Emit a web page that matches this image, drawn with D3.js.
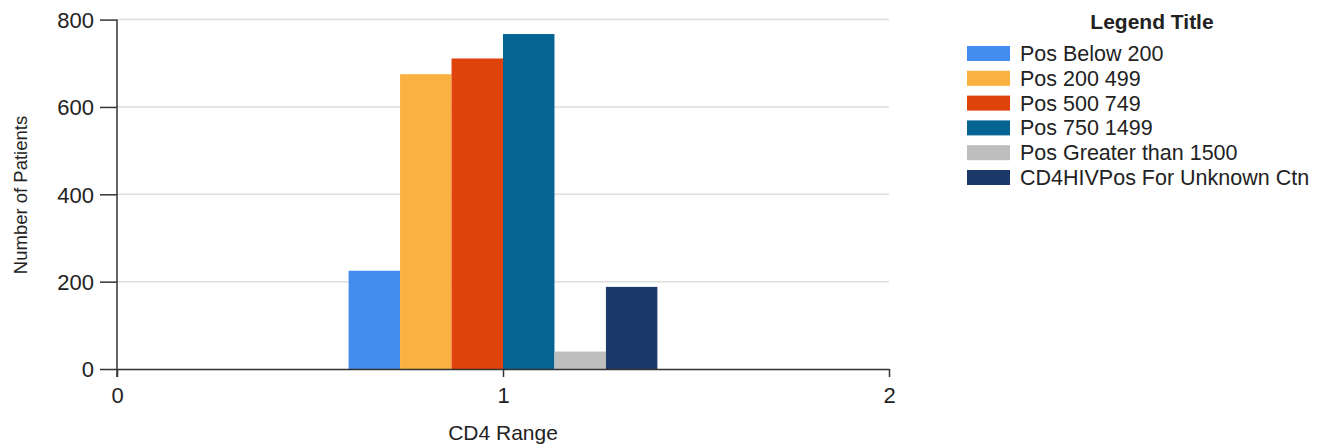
<!DOCTYPE html>
<html>
<head>
<meta charset="utf-8">
<script src="https://cdn.jsdelivr.net/npm/d3@7"></script>
<style>
  body { margin: 0; background: #fff; }
  text { font-family: "Liberation Sans", Arial, sans-serif; fill: #222; }
</style>
</head>
<body>
<div id="chart"></div>
<script>
const seriesNames = ["Pos Below 200", "Pos 200 499", "Pos 500 749", "Pos 750 1499", "Pos Greater than 1500", "CD4HIVPos For Unknown Ctn"];
const seriesValues = [225, 675, 711, 767, 40, 188];
const seriesColors = ["#428cef", "#f9b240", "#e0420b", "#066493", "#bebebe", "#1c3a69"];
const xTicks = [0, 1, 2];
const yTicks = [0, 200, 400, 600, 800];

const W = 1323, H = 445;
const margin = {top: 19.6, right: 434, bottom: 76, left: 117};

const svg = d3.select("#chart").append("svg")
    .attr("width", W)
    .attr("height", H);

const x = d3.scaleLinear().domain([0, 2]).range([margin.left, W - margin.right]);
const y = d3.scaleLinear().domain([0, 800]).range([H - margin.bottom, margin.top]);

// bars sit in a band around category 1
const band = d3.scaleBand().domain(seriesNames).range([x(0.6), x(1.4)]).padding(0);

// gridlines
svg.append("g").selectAll("line")
    .data(yTicks.filter(d => d > 0))
    .enter().append("line")
    .attr("x1", x(0)).attr("x2", x(2))
    .attr("y1", d => y(d)).attr("y2", d => y(d))
    .attr("stroke", "#dedede")
    .attr("stroke-width", 1.5);

svg.append("g").selectAll("rect")
    .data(seriesValues)
    .enter().append("rect")
    .attr("x", (d, i) => band(seriesNames[i]))
    .attr("width", band.bandwidth())
    .attr("y", d => y(d))
    .attr("height", d => y(0) - y(d))
    .attr("fill", (d, i) => seriesColors[i]);

// y axis
const yAxis = svg.append("g")
    .attr("transform", "translate(" + x(0) + ",0)")
    .call(d3.axisLeft(y).tickValues(yTicks).tickSize(17).tickPadding(6).tickSizeOuter(0));
yAxis.select(".domain").attr("stroke", "#333").attr("stroke-width", 1.5)
    .attr("d", "M0," + y(800) + "V" + (y(0) + 8));
yAxis.selectAll(".tick line").attr("stroke", "#333").attr("stroke-width", 1.5).attr("x2", -17).attr("x1", 0);
yAxis.selectAll(".tick text").style("font-size", "22px").attr("fill", "#222").attr("dy", "0.36em");

// x axis
const xAxis = svg.append("g")
    .attr("transform", "translate(0," + y(0) + ")")
    .call(d3.axisBottom(x).tickValues(xTicks).tickSize(8).tickPadding(10).tickSizeOuter(0).tickFormat(d3.format("d")));
xAxis.select(".domain").attr("stroke", "#333").attr("stroke-width", 1.5);
xAxis.selectAll(".tick line").attr("stroke", "#333").attr("stroke-width", 1.5);
xAxis.selectAll(".tick text").style("font-size", "22px").attr("fill", "#222");

// axis titles
svg.append("text")
    .attr("x", x(1))
    .attr("y", 440)
    .attr("text-anchor", "middle")
    .style("font-size", "21px")
    .text("CD4 Range");

svg.append("text")
    .attr("transform", "translate(27," + 195 + ") rotate(-90)")
    .attr("text-anchor", "middle")
    .style("font-size", "18.5px")
    .text("Number of Patients");

// legend
const legend = svg.append("g");
legend.append("text")
    .attr("x", 1152)
    .attr("y", 29)
    .attr("text-anchor", "middle")
    .style("font-size", "21px")
    .style("font-weight", "bold")
    .text("Legend Title");

const rows = legend.selectAll("g.row")
    .data(seriesNames)
    .enter().append("g")
    .attr("class", "row")
    .attr("transform", (d, i) => "translate(967," + (46 + i * 24.8) + ")");
rows.append("rect")
    .attr("width", 43)
    .attr("height", 15)
    .attr("fill", (d, i) => seriesColors[i]);
rows.append("text")
    .attr("x", 53)
    .attr("y", 15)
    .style("font-size", "21.5px")
    .text(d => d);
</script>
</body>
</html>
